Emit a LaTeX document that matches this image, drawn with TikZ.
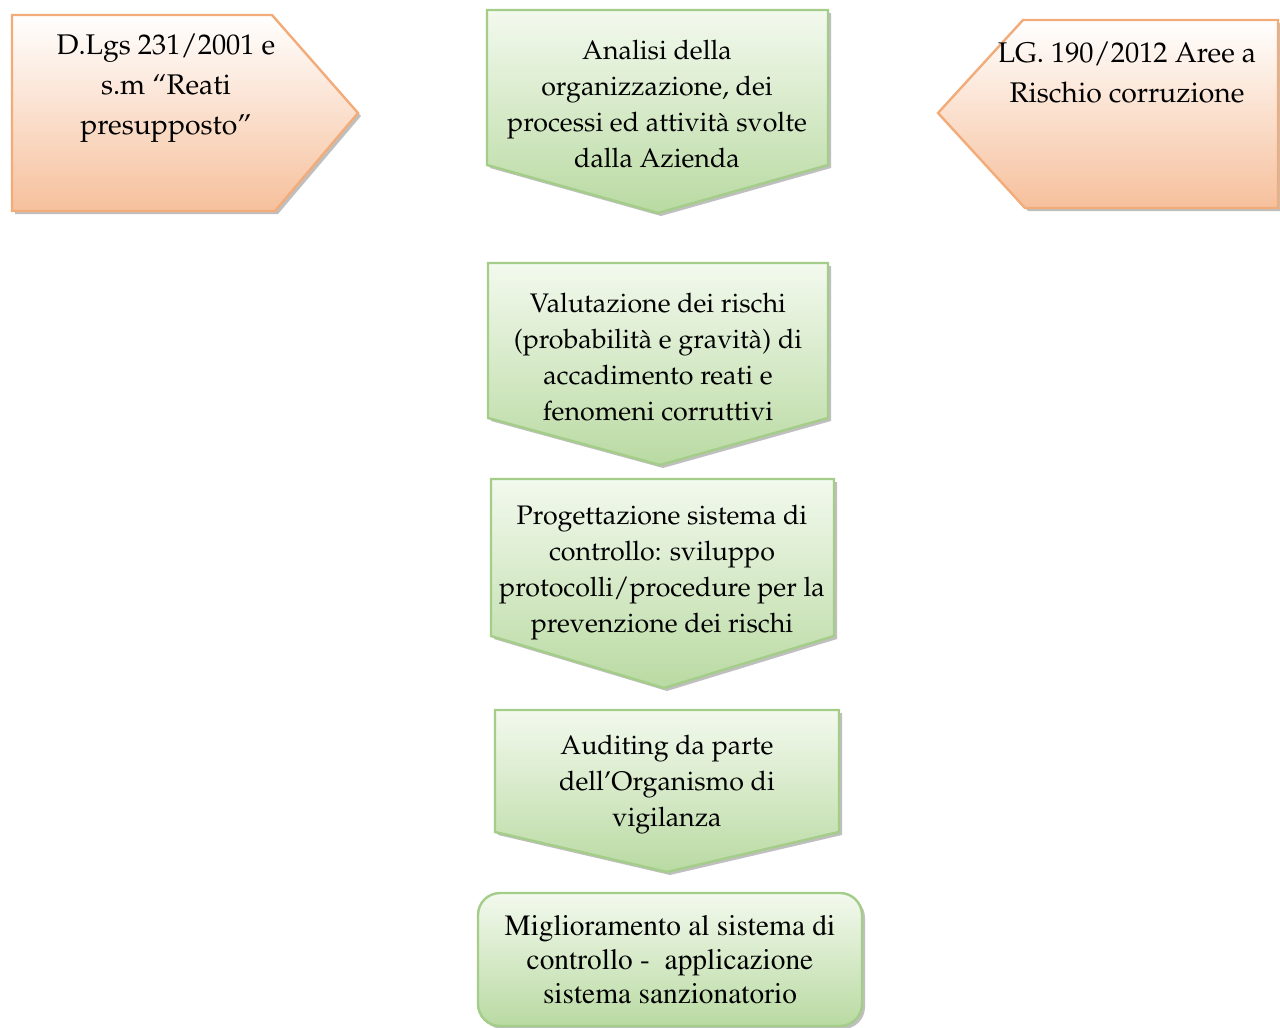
\documentclass[tikz,border=0pt]{standalone}
\usepackage[T1]{fontenc}
\renewcommand{\rmdefault}{ppl}
\definecolor{orB}{HTML}{F6C09C}
\definecolor{orT}{HTML}{FFFFFF}
\definecolor{orL}{HTML}{F2AC7A}
\definecolor{grT}{HTML}{F3F9EE}
\definecolor{grB}{HTML}{B9DAA2}
\definecolor{grL}{HTML}{A3CD88}
\tikzset{
  x=0.5pt, y=-0.5pt,
  shadowshape/.style={fill=black!45, opacity=0.55},
  orshape/.style={draw=orL, line width=1.2pt, top color=orT, bottom color=orB, line join=miter},
  grshape/.style={draw=grL, line width=1.2pt, top color=grT, bottom color=grB, line join=miter},
  pentatext/.style={align=center, inner sep=0pt, font=\fontsize{14.2}{20}\selectfont},
  chevtext/.style={align=center, inner sep=0pt, font=\fontsize{13.4}{18}\selectfont},
  boxtext/.style={align=center, inner sep=0pt, font=\fontfamily{ptm}\fontsize{14.7}{17}\selectfont},
}
\begin{document}
\begin{tikzpicture}
\useasboundingbox (0,0) rectangle (1280,1028);
\fill[white] (0,0) rectangle (1280,1028);

% left pentagon
\fill[shadowshape] (15,18)--(275,18)--(361,116)--(278,214)--(15,214)--cycle;
\path[orshape] (12,15)--(272,15)--(358,113)--(275,211)--(12,211)--cycle;
\node[pentatext] (dlgs) at (166,88) {D.Lgs 231/2001 e\\s.m ``Reati\\presupposto''};

% right pentagon
\fill[shadowshape] (1026,23)--(1283,23)--(1283,211)--(1028,211)--(941,116)--cycle;
\path[orshape] (1023,20)--(1278,20)--(1278,208)--(1025,208)--(938,113)--cycle;
\node[pentatext] (lg) at (1127,73) {LG. 190/2012 Aree a\\Rischio corruzione};

% chevron 1
\fill[shadowshape] (490,13)--(831,13)--(831,168)--(661,216)--(490,168)--cycle;
\path[grshape] (487,10)--(828,10)--(828,165)--(658,213)--(487,165)--cycle;
\node[chevtext] (analisi) at (657,104) {Analisi della\\organizzazione, dei\\processi ed attivit\`a svolte\\dalla Azienda};

% chevron 2
\fill[shadowshape] (491,266)--(831,266)--(831,421)--(663,468)--(491,421)--cycle;
\path[grshape] (488,263)--(828,263)--(828,418)--(660,465)--(488,418)--cycle;
\node[chevtext] (valut) at (658,357) {Valutazione dei rischi\\(probabilit\`a e gravit\`a) di\\accadimento reati e\\fenomeni corruttivi};

% chevron 3
\fill[shadowshape] (494,482)--(837,482)--(837,639)--(667,691)--(494,639)--cycle;
\path[grshape] (491,479)--(834,479)--(834,636)--(664,688)--(491,636)--cycle;
\node[chevtext] (prog) at (662,573) {Progettazione sistema di\\controllo: sviluppo\\protocolli/procedure per la\\prevenzione dei rischi};

% chevron 4
\fill[shadowshape] (498,713)--(842,713)--(842,835)--(670,875)--(498,835)--cycle;
\path[grshape] (495,710)--(839,710)--(839,832)--(667,872)--(495,832)--cycle;
\node[chevtext] (audit) at (667,785) {Auditing da parte\\dell'Organismo di\\vigilanza};

% bottom rounded box
\fill[shadowshape, rounded corners=11pt] (481,896) rectangle (865,1029);
\path[grshape, rounded corners=11pt] (478,893) rectangle (862,1026);
\node[boxtext] (migl) at (670,960) {Miglioramento al sistema di\\controllo -\ \ applicazione\\sistema sanzionatorio};
\end{tikzpicture}
\end{document}
